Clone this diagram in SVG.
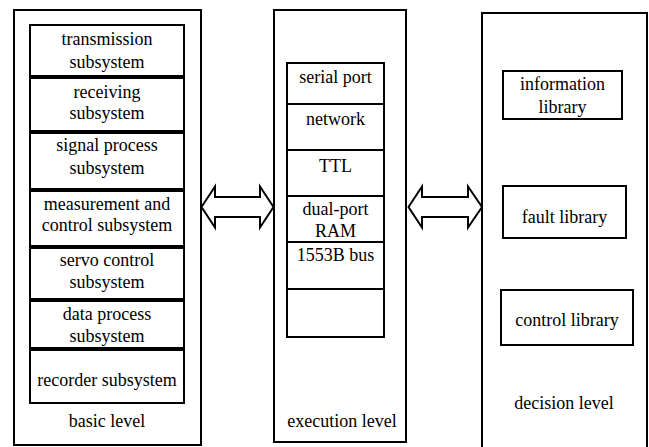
<svg xmlns="http://www.w3.org/2000/svg" width="649" height="447" viewBox="0 0 649 447" font-family="'Liberation Serif', 'DejaVu Serif', serif">
  <style>
    .frame { fill: #ffffff; stroke: #000000; stroke-width: 2; }
    .cell { fill: #ffffff; stroke: #000000; stroke-width: 2; }
    .arrow { fill: #ffffff; stroke: #000000; stroke-width: 2; stroke-linejoin: miter; }
    .lbl { font-family: 'Liberation Serif', 'DejaVu Serif', serif; font-size: 18px; fill: #000000; text-anchor: middle; }
  </style>
  <rect x="0" y="0" width="649" height="447" fill="#ffffff"/>

  <!-- basic level column -->
  <g id="basic-level">
    <rect class="frame" x="14" y="10" width="187" height="435"/>
    <text class="lbl" x="107" y="427">basic level</text>
  </g>
  <g id="transmission-subsystem">
    <rect class="cell" x="30" y="25" width="154" height="51"/>
    <text class="lbl" x="107" y="45">transmission</text>
    <text class="lbl" x="107" y="68">subsystem</text>
  </g>
  <g id="receiving-subsystem">
    <rect class="cell" x="30" y="78" width="154" height="53"/>
    <text class="lbl" x="107" y="98">receiving</text>
    <text class="lbl" x="107" y="119">subsystem</text>
  </g>
  <g id="signal-process-subsystem">
    <rect class="cell" x="30" y="133" width="154" height="56"/>
    <text class="lbl" x="107" y="151">signal process</text>
    <text class="lbl" x="107" y="174">subsystem</text>
  </g>
  <g id="measurement-control-subsystem">
    <rect class="cell" x="30" y="191" width="154" height="55"/>
    <text class="lbl" x="107" y="210">measurement and</text>
    <text class="lbl" x="107" y="231">control subsystem</text>
  </g>
  <g id="servo-control-subsystem">
    <rect class="cell" x="30" y="248" width="154" height="51"/>
    <text class="lbl" x="107" y="266">servo control</text>
    <text class="lbl" x="107" y="288">subsystem</text>
  </g>
  <g id="data-process-subsystem">
    <rect class="cell" x="30" y="301" width="154" height="47"/>
    <text class="lbl" x="107" y="320">data process</text>
    <text class="lbl" x="107" y="342">subsystem</text>
  </g>
  <g id="recorder-subsystem">
    <rect class="cell" x="30" y="350" width="154" height="53"/>
    <text class="lbl" x="107" y="386">recorder subsystem</text>
  </g>

  <!-- execution level column -->
  <g id="execution-level">
    <rect class="frame" x="274" y="10" width="132" height="432"/>
    <text class="lbl" x="342" y="427">execution level</text>
  </g>
  <g id="serial-port">
    <rect class="cell" x="287" y="63" width="97" height="41"/>
    <text class="lbl" x="335.5" y="83">serial port</text>
  </g>
  <g id="network">
    <rect class="cell" x="287" y="104" width="97" height="46"/>
    <text class="lbl" x="335.5" y="125">network</text>
  </g>
  <g id="ttl">
    <rect class="cell" x="287" y="150" width="97" height="46"/>
    <text class="lbl" x="335.5" y="172">TTL</text>
  </g>
  <g id="dual-port-ram">
    <rect class="cell" x="287" y="196" width="97" height="46"/>
    <text class="lbl" x="335.5" y="215">dual-port</text>
    <text class="lbl" x="335.5" y="237">RAM</text>
  </g>
  <g id="bus-1553b">
    <rect class="cell" x="287" y="242" width="97" height="47"/>
    <text class="lbl" x="335.5" y="261">1553B bus</text>
  </g>
  <g id="spare-slot">
    <rect class="cell" x="287" y="289" width="97" height="48"/>
  </g>

  <!-- decision level column -->
  <g id="decision-level">
    <rect class="frame" x="482" y="13" width="165" height="440"/>
    <text class="lbl" x="564" y="409">decision level</text>
  </g>
  <g id="information-library">
    <rect class="cell" x="503" y="71" width="119" height="48"/>
    <text class="lbl" x="562.5" y="90">information</text>
    <text class="lbl" x="562.5" y="113">library</text>
  </g>
  <g id="fault-library">
    <rect class="cell" x="503" y="186" width="123" height="52"/>
    <text class="lbl" x="564.5" y="223">fault library</text>
  </g>
  <g id="control-library">
    <rect class="cell" x="501" y="290" width="132" height="55"/>
    <text class="lbl" x="567" y="326">control library</text>
  </g>

  <!-- bidirectional block arrows between levels -->
  <g id="connectors">
    <path class="arrow" d="M201.5,207 L215,186.5 L215,197 L260,197 L260,186.5 L273.5,207 L260,227.5 L260,217 L215,217 L215,227.5 Z"/>
    <path class="arrow" d="M408.5,207 L422,186.5 L422,197 L468,197 L468,186.5 L482,207 L468,227.5 L468,217 L422,217 L422,227.5 Z"/>
  </g>
</svg>
